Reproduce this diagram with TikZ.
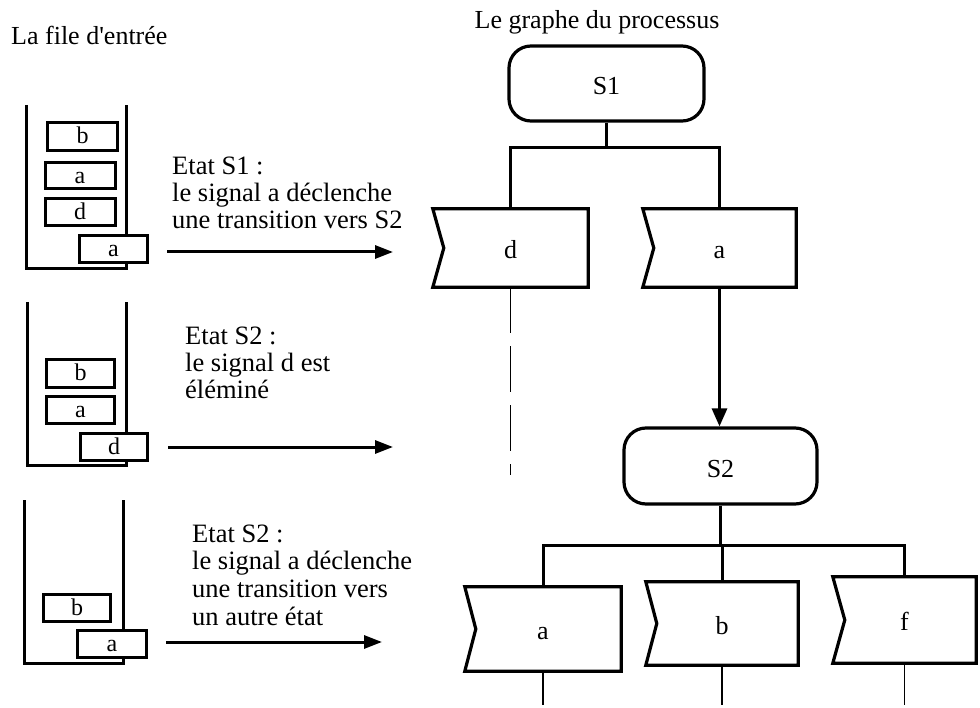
\documentclass[tikz,border=0pt]{standalone}
\usepackage{fontspec}
\setmainfont{Liberation Serif}
\usetikzlibrary{arrows.meta}
\newcommand\notchbox[2]{%
  \draw[sigline] (#1.north west) -- (#1.north east) -- (#1.south east)
    -- (#1.south west) -- ([xshift=#2]#1.west) -- cycle;}
\begin{document}
\begin{tikzpicture}[x=1pt,y=-1pt,
  lbl/.style={font=\fontsize{26.5}{28}\selectfont, inner sep=0pt, anchor=base west},
  ttl/.style={font=\fontsize{26}{28}\selectfont, inner sep=0pt},
  wall/.style={line width=3pt, line join=miter},
  qbox/.style={draw, line width=3pt, fill=white, inner sep=0pt,
    font=\fontsize{24}{26}\selectfont, text height=15pt, text depth=0pt},
  state/.style={draw, line width=3.2pt, rounded corners=22pt, inner sep=0pt,
    font=\fontsize{26}{28}\selectfont, text height=22pt, text depth=0pt},
  sigbox/.style={inner sep=0pt, font=\fontsize{26}{28}\selectfont,
    text height=21pt, text depth=0pt},
  sigline/.style={line width=3.2pt, line join=miter},
  link/.style={line width=3pt},
  thinlink/.style={line width=1.2pt},
  arr/.style={line width=3pt, -{Triangle[length=18pt,width=13pt]}},
]
\useasboundingbox (0,0) rectangle (980,708);

% titles
\node[ttl, anchor=base west] (tq) at (11,45) {La file d\textquotesingle entrée};
\node[ttl, anchor=base] (tg) at (597,29) {Le graphe du processus};

% ---- input queues ----
% queue 1
\draw[wall] (26.5,105) -- (26.5,269) -- (126,269) -- (126,105);
\node[qbox, minimum width=70pt, minimum height=28pt] (q1b) at (82.5,136.5) {b};
\node[qbox, minimum width=70pt, minimum height=26pt] (q1a) at (80,176) {a};
\node[qbox, minimum width=70pt, minimum height=27pt] (q1d) at (80,212) {d};
\node[qbox, minimum width=68pt, minimum height=27pt] (q1x) at (113.5,249) {a};
% queue 2
\draw[wall] (27,302) -- (27,465) -- (126,465) -- (126,302);
\node[qbox, minimum width=68pt, minimum height=28pt] (q2b) at (80.5,373.5) {b};
\node[qbox, minimum width=68pt, minimum height=27pt] (q2a) at (80.5,410) {a};
\node[qbox, minimum width=67pt, minimum height=27pt] (q2x) at (114,447) {d};
% queue 3
\draw[wall] (24,500) -- (24,663) -- (123,663) -- (123,500);
\node[qbox, minimum width=67pt, minimum height=27pt] (q3b) at (77,608) {b};
\node[qbox, minimum width=69pt, minimum height=27pt] (q3x) at (112,644) {a};

% ---- explanations ----
\node[lbl] (e1a) at (172,175) {Etat S1 :};
\node[lbl] (e1b) at (172,202) {le signal a déclenche};
\node[lbl] (e1c) at (172,229) {une transition vers S2};

\node[lbl] (e2a) at (185,345) {Etat S2 :};
\node[lbl] (e2b) at (185,372) {le signal d est};
\node[lbl] (e2c) at (185,399) {éléminé};

\node[lbl] (e3a) at (192,542) {Etat S2 :};
\node[lbl] (e3b) at (192,569) {le signal a déclenche};
\node[lbl] (e3c) at (192,597) {une transition vers};
\node[lbl] (e3d) at (192,625) {un autre état};

\coordinate (a1s) at (167,252);  \coordinate (a1e) at (393,252);
\coordinate (a2s) at (168,447);  \coordinate (a2e) at (393,447);
\coordinate (a3s) at (166,642);  \coordinate (a3e) at (382,642);
\draw[arr] (a1s) -- (a1e);
\draw[arr] (a2s) -- (a2e);
\draw[arr] (a3s) -- (a3e);

% ---- process graph ----
\node[state, minimum width=195pt, minimum height=75pt] (s1) at (606.5,83.5) {S1};
\node[state, minimum width=193pt, minimum height=76pt] (s2) at (720.5,466) {S2};

\node[sigbox, minimum width=155pt, minimum height=78pt] (inD) at (510.5,248) {d};
\node[sigbox, minimum width=153pt, minimum height=78pt] (inA) at (719.5,248) {a};
\notchbox{inD}{11pt}
\notchbox{inA}{11pt}

\node[sigbox, minimum width=156pt, minimum height=84pt] (bA) at (543,629) {a};
\node[sigbox, minimum width=152pt, minimum height=83pt] (bB) at (722,623.5) {b};
\node[sigbox, minimum width=143pt, minimum height=86pt] (bF) at (904.5,620) {f};
\notchbox{bA}{11pt}
\notchbox{bB}{11pt}
\notchbox{bF}{12pt}

% branches below S1
\coordinate (br1) at (0,148);
\draw[link] (s1.south) -- (s1.south |- br1);
\draw[link, line join=miter] (inD.north) -- (inD.north |- br1) -- (inA.north |- br1) -- (inA.north);

% signal d is dropped
\coordinate (dEnd) at (511,475);
\draw[thinlink, dash pattern=on 46pt off 13pt] (inD.south) -- (inD.south |- dEnd);

% signal a leads to S2
\draw[link, -{Triangle[length=18pt,width=15pt]}] (inA.south) -- (inA.south |- s2.north);

% branches below S2
\coordinate (br2) at (0,545);
\draw[link] (s2.south) -- (s2.south |- br2);
\draw[link, line join=miter] (bA.north) -- (bA.north |- br2) -- (bF.north |- br2) -- (bF.north);
\draw[link] (bB.north) -- (bB.north |- br2);

\coordinate (bot) at (0,705);
\draw[thinlink] (bA.south) -- (bA.south |- bot);
\draw[thinlink] (bB.south) -- (bB.south |- bot);
\draw[thinlink] (bF.south) -- (bF.south |- bot);
\end{tikzpicture}
\end{document}
